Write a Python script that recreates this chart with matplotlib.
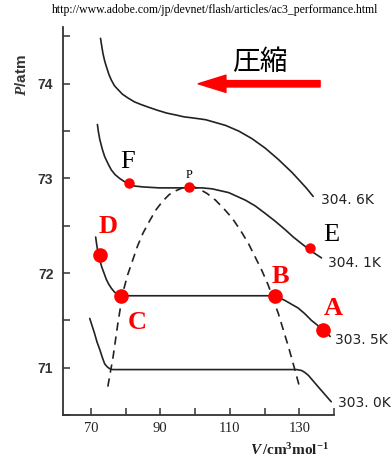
import matplotlib
matplotlib.use('Agg')
import matplotlib.pyplot as plt

plt.rcParams['mathtext.fontset'] = 'custom'
plt.rcParams['mathtext.it'] = 'Liberation Serif:italic:bold'
plt.rcParams['mathtext.rm'] = 'Liberation Serif:bold'

# isotherms of CO2 (V in cm3/mol, P in atm)
v_3046 = [72.8, 73.1, 73.5, 74.0, 74.5, 75.2, 75.9, 76.8, 77.8, 79.1, 80.7,
          82.5, 84.5, 86.8, 89.2, 91.9, 94.5, 96.9, 99.2, 101.2, 103.1, 105.0,
          106.9, 108.8, 110.7, 112.6, 114.5, 116.4, 118.3, 120.2, 122.1, 124.0,
          126.0, 128.0, 130.0, 132.0, 134.0]
p_3046 = [74.48, 74.41, 74.32, 74.24, 74.18, 74.10, 74.04, 73.98, 73.94, 73.89,
          73.85, 73.81, 73.78, 73.75, 73.72, 73.69, 73.67, 73.65, 73.64, 73.63,
          73.62, 73.60, 73.58, 73.56, 73.53, 73.50, 73.46, 73.42, 73.37, 73.32,
          73.26, 73.20, 73.13, 73.06, 72.98, 72.90, 72.81]

v_3041 = [71.9, 72.2, 72.6, 73.3, 74.0, 74.9, 75.9, 77.0, 78.3, 79.5, 80.7,
          82.5, 85.0, 89.7, 94.5, 99.2, 102.0, 104.9, 107.3, 109.7, 112.1, 114.5,
          117.3, 120.2, 123.0, 125.9, 128.3, 130.7, 133.5, 136.4]
p_3041 = [73.57, 73.49, 73.41, 73.31, 73.23, 73.16, 73.09, 73.04, 73.00, 72.97,
          72.95, 72.92, 72.91, 72.90, 72.90, 72.90, 72.90, 72.89, 72.87, 72.85,
          72.81, 72.77, 72.71, 72.63, 72.55, 72.46, 72.38, 72.31, 72.23, 72.16]

v_3035 = [71.4, 71.7, 72.1, 72.6, 73.1, 73.8, 74.5, 75.2, 75.9, 76.8, 77.8, 78.6,
          122.6, 124.2, 125.9, 127.8, 129.7, 131.6, 133.5, 135.2, 136.9, 138.9]
p_3035 = [72.38, 72.30, 72.21, 72.14, 72.07, 72.00, 71.93, 71.88, 71.84, 71.80,
          71.77, 71.76, 71.76, 71.74, 71.71, 71.67, 71.63, 71.57, 71.50, 71.45,
          71.40, 71.33]

v_3030 = [69.7, 70.4, 71.1, 71.8, 72.6, 73.3, 74.0, 74.7, 75.4, 76.3, 77.3, 84.0,
          128.0, 129.3, 130.7, 131.6, 132.6, 134.0, 135.4, 137.3, 139.2]
p_3030 = [71.52, 71.44, 71.36, 71.27, 71.19, 71.11, 71.04, 71.01, 70.99, 70.98,
          70.98, 70.98, 70.98, 70.98, 70.97, 70.95, 70.92, 70.86, 70.80, 70.72,
          70.64]

# coexistence (dashed) curve
v_dome = [74.9, 76.4, 77.8, 79.2, 80.6, 82.1, 83.5, 85.0, 86.9, 88.8, 90.7,
          92.6, 94.5, 96.4, 98.3, 99.7, 101.1, 103.5, 105.9, 108.3, 110.7, 113.1,
          115.4, 117.3, 119.2, 121.1, 122.5, 124.0, 125.4, 126.9, 128.8, 130.2]
p_dome = [70.80, 71.11, 71.47, 71.79, 71.98, 72.14, 72.29, 72.42, 72.55, 72.67,
          72.76, 72.83, 72.87, 72.90, 72.91, 72.91, 72.89, 72.84, 72.77, 72.68,
          72.58, 72.45, 72.31, 72.17, 72.03, 71.87, 71.72, 71.57, 71.40, 71.22,
          70.97, 70.78]

iso_labels = ['304. 6K', '304. 1K', '303. 5K', '303. 0K']
iso_label_pos = [(136.3, 72.77), (138.3, 72.11), (140.3, 71.29), (141.1, 70.63)]

# state points
big_names = ['A', 'B', 'C', 'D']
big_v = [136.9, 122.9, 78.6, 72.6]
big_p = [71.40, 71.76, 71.76, 72.19]
big_text = [(139.7, 71.63), (124.6, 71.96), (83.4, 71.48), (74.9, 72.49)]

small_names = ['E', 'F', 'P']
small_v = [133.1, 80.9, 98.3]
small_p = [72.26, 72.95, 72.91]
small_text = [(139.1, 72.40), (80.6, 73.17), (98.3, 73.04)]
small_size = [19, 19, 9]

fig = plt.figure(figsize=(3.92, 4.62), dpi=100)
ax = fig.add_axes([63 / 392, 1 - 415 / 462, 271 / 392, 388 / 462])

for v, p in [(v_3046, p_3046), (v_3041, p_3041), (v_3035, p_3035), (v_3030, p_3030)]:
    ax.plot(v, p, color='#222222', lw=1.2, solid_capstyle='round',
            solid_joinstyle='round')
ax.plot(v_dome, p_dome, color='#222222', lw=1.2, dashes=(5, 3.5))

for lab, (x, y) in zip(iso_labels, iso_label_pos):
    ax.text(x, y, lab, fontsize=10, family='DejaVu Sans', color='#222222',
            ha='left', va='center', clip_on=False)

ax.plot(big_v, big_p, 'o', color='red', ms=9.5, zorder=5, clip_on=False)
ax.plot(small_v, small_p, 'o', color='red', ms=6.5, zorder=5)

for name, (x, y) in zip(big_names, big_text):
    ax.text(x, y, name, color='red', fontsize=19, fontweight='bold',
            family='Liberation Serif', ha='center', va='center', clip_on=False)
for name, (x, y), s in zip(small_names, small_text, small_size):
    ax.text(x, y, name, color='black', fontsize=s, family='Liberation Serif',
            ha='center', va='center', clip_on=False)

# compression arrow
ax.annotate('', xy=(100.9, 74.0), xytext=(136.0, 74.0),
            arrowprops=dict(arrowstyle='simple,head_length=1.0,head_width=0.62,tail_width=0.23',
                            color='red', mutation_scale=20, shrinkA=0, shrinkB=0))
ax.text(118.6, 74.23, '圧縮', fontsize=20, family='Noto Sans CJK JP',
        ha='center', va='center')

ax.set_xlim(62, 140)
ax.set_ylim(70.5, 74.6)
ax.set_xticks(range(70, 141, 10))
ax.set_xticklabels(['70', '', '90', '', '110', '', '130', ''])
ax.set_yticks([70.5 + 0.5 * i for i in range(9)])
ax.set_yticklabels(['', '71', '', '72', '', '73', '', '74', ''])
ax.spines['top'].set_visible(False)
ax.spines['right'].set_visible(False)
for s in ['left', 'bottom']:
    ax.spines[s].set_linewidth(1.3)
    ax.spines[s].set_color('#333333')
ax.tick_params(direction='in', length=5, width=1.1, color='#333333')
ax.tick_params(axis='y', pad=7)
ax.tick_params(axis='x', pad=5)
for t in ax.get_yticklabels():
    t.set_fontfamily('Liberation Sans')
    t.set_fontweight('bold')
    t.set_fontsize(10)
    t.set_color('#333333')
for t in ax.get_xticklabels():
    t.set_fontfamily('Liberation Serif')
    t.set_fontsize(10.5)
    t.set_color('#222222')

fig.text(22 / 392, 1 - 75 / 462, r'$\mathit{P}$/atm', rotation=90, fontsize=11,
         family='Liberation Sans', fontweight='bold', ha='center', va='center',
         color='#333333')
fig.text(290 / 392, 1 - 450 / 462, r'$\mathit{V}\,/\mathrm{cm^3mol^{-1}}$',
         fontsize=11, ha='center', va='center', color='#222222')
fig.text(52 / 392, 1 - 10 / 462,
         'http://www.adobe.com/jp/devnet/flash/articles/ac3_performance.html',
         fontsize=8.5, family='Liberation Serif', ha='left', va='center')

fig.savefig('out.png', dpi=100)
